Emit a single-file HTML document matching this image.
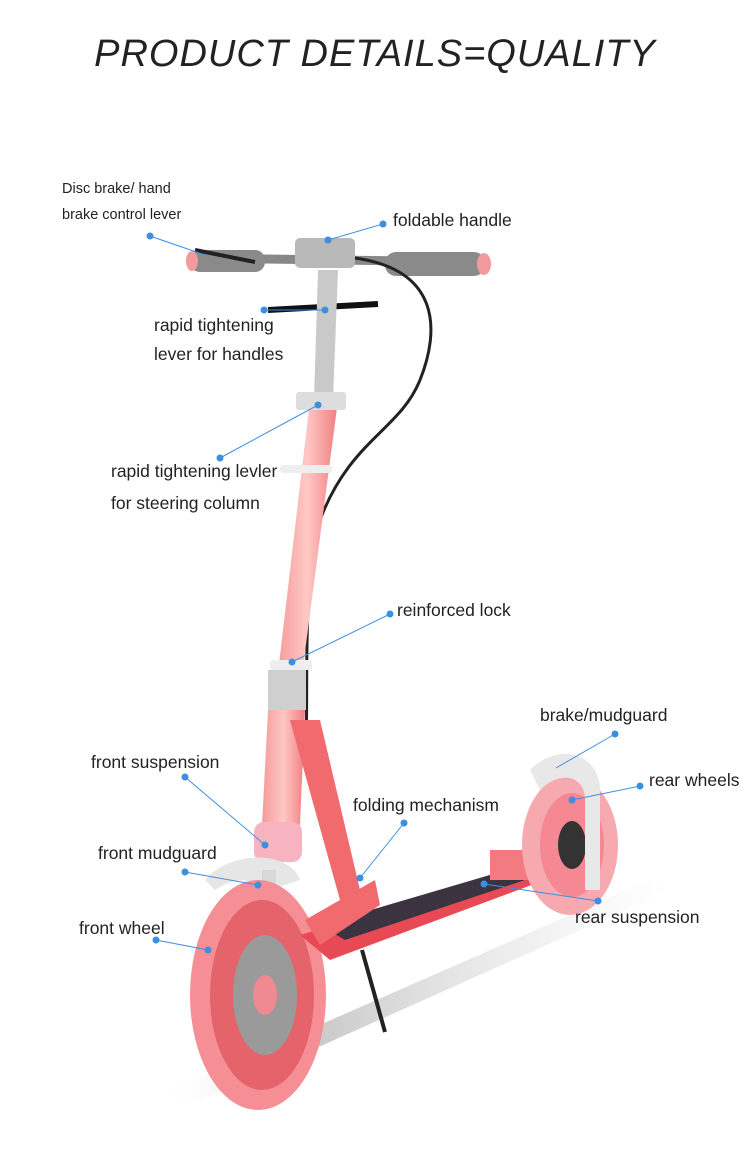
<!DOCTYPE html>
<html><head><meta charset="utf-8">
<style>
html,body{margin:0;padding:0;background:#fff;}
#c{position:relative;width:750px;height:1167px;overflow:hidden;background:#fff;font-family:"Liberation Sans",sans-serif;}
.t{position:absolute;left:0;width:750px;top:33px;text-align:center;font-size:38px;font-style:italic;font-weight:normal;color:#222;letter-spacing:1px;}
.l{position:absolute;font-size:17.5px;color:#222;white-space:nowrap;}
.s{font-size:14.5px;}
svg{position:absolute;left:0;top:0;}
</style></head><body><div id="c">
<svg width="750" height="1167" viewBox="0 0 750 1167">
<defs>
<linearGradient id="pk" x1="0" x2="1"><stop offset="0" stop-color="#f59a9a"/><stop offset=".5" stop-color="#ffc8c4"/><stop offset="1" stop-color="#f07d80"/></linearGradient>
<linearGradient id="sh" x1="0" x2="1"><stop offset="0" stop-color="#fff" stop-opacity="0"/><stop offset=".3" stop-color="#bbb"/><stop offset="1" stop-color="#ddd" stop-opacity="0"/></linearGradient>
</defs>
<polygon points="160,1095 650,880 670,890 200,1100" fill="url(#sh)" opacity=".8"/>
<path d="M190,258 L480,262" stroke="#888" stroke-width="9"/>
<rect x="190" y="250" width="75" height="22" rx="10" fill="#8a8a8a"/>
<rect x="385" y="252" width="100" height="24" rx="11" fill="#8a8a8a"/>
<ellipse cx="484" cy="264" rx="7" ry="11" fill="#f39a9c"/>
<ellipse cx="192" cy="261" rx="6" ry="10" fill="#f39a9c"/>
<rect x="295" y="238" width="60" height="30" rx="5" fill="#b9b9b9"/>
<path d="M355,258 C440,270 440,330 420,380 C400,430 350,440 320,520 C300,600 310,700 305,760" stroke="#222" stroke-width="3" fill="none"/>
<path d="M195,250 L255,262" stroke="#222" stroke-width="4"/>
<path d="M268,310 L378,304" stroke="#111" stroke-width="6"/>
<polygon points="318,270 338,270 333,400 314,400" fill="#c9c9c9"/>
<polygon points="310,400 338,400 300,690 276,690" fill="url(#pk)"/>
<rect x="296" y="392" width="50" height="18" rx="3" fill="#ddd"/>
<rect x="280" y="465" width="52" height="8" rx="3" fill="#eee"/>
<rect x="270" y="660" width="42" height="10" rx="3" fill="#eee"/>
<rect x="268" y="670" width="38" height="40" fill="#cfcfcf"/>
<polygon points="268,710 305,710 300,825 262,825" fill="url(#pk)"/>
<polygon points="290,720 320,720 360,890 340,900" fill="#f06a6e"/>
<rect x="254" y="822" width="48" height="40" rx="10" fill="#f7b3c0"/>
<path d="M205,880 C230,850 290,850 300,880 L270,890 C250,875 230,880 215,890Z" fill="#e6e6e6"/>
<rect x="262" y="870" width="14" height="110" fill="#d8d8d8"/>
<ellipse cx="258" cy="995" rx="68" ry="115" fill="#f58e95"/>
<ellipse cx="262" cy="995" rx="52" ry="95" fill="#e5636b"/>
<ellipse cx="265" cy="995" rx="32" ry="60" fill="#9a9a9a"/>
<ellipse cx="265" cy="995" rx="12" ry="20" fill="#ee8a90"/>
<polygon points="300,935 520,870 545,880 330,960" fill="#e84a55"/>
<polygon points="320,925 500,872 525,880 345,940" fill="#3b3340"/>
<polygon points="305,920 375,880 380,905 320,945" fill="#f06a6e"/>
<path d="M362,950 L385,1032" stroke="#222" stroke-width="4"/>
<rect x="490" y="850" width="40" height="30" fill="#f27a80"/>
<ellipse cx="570" cy="845" rx="48" ry="70" fill="#f7a9b0"/>
<ellipse cx="572" cy="845" rx="32" ry="52" fill="#f58893"/>
<ellipse cx="572" cy="845" rx="14" ry="24" fill="#333"/>
<path d="M530,770 C560,740 600,755 600,790 L600,890 L585,890 L585,800 C585,775 560,770 540,790Z" fill="#e8e8e8"/>
<g stroke="#3d8fe0" stroke-width="1" fill="#3d8fe0">
<line x1="150" y1="236" x2="205" y2="255"/><circle cx="150" cy="236" r="3"/>
<line x1="328" y1="240" x2="383" y2="224"/><circle cx="383" cy="224" r="3"/><circle cx="328" cy="240" r="3"/>
<line x1="264" y1="310" x2="325" y2="310"/><circle cx="264" cy="310" r="3"/><circle cx="325" cy="310" r="3"/>
<line x1="220" y1="458" x2="318" y2="405"/><circle cx="220" cy="458" r="3"/><circle cx="318" cy="405" r="3"/>
<line x1="292" y1="662" x2="390" y2="614"/><circle cx="390" cy="614" r="3"/><circle cx="292" cy="662" r="3"/>
<line x1="556" y1="768" x2="615" y2="734"/><circle cx="615" cy="734" r="3"/>
<line x1="572" y1="800" x2="640" y2="786"/><circle cx="640" cy="786" r="3"/><circle cx="572" cy="800" r="3"/>
<line x1="185" y1="777" x2="265" y2="845"/><circle cx="185" cy="777" r="3"/><circle cx="265" cy="845" r="3"/>
<line x1="360" y1="878" x2="404" y2="823"/><circle cx="404" cy="823" r="3"/><circle cx="360" cy="878" r="3"/>
<line x1="185" y1="872" x2="258" y2="885"/><circle cx="185" cy="872" r="3"/><circle cx="258" cy="885" r="3"/>
<line x1="484" y1="884" x2="598" y2="901"/><circle cx="598" cy="901" r="3"/><circle cx="484" cy="884" r="3"/>
<line x1="156" y1="940" x2="208" y2="950"/><circle cx="156" cy="940" r="3"/><circle cx="208" cy="950" r="3"/>
</g>
</svg>
<div class="t">PRODUCT DETAILS=QUALITY</div>
<div class="l s" style="left:62px;top:181px">Disc brake/ hand</div>
<div class="l s" style="left:62px;top:207px">brake control lever</div>
<div class="l" style="left:393px;top:210px">foldable handle</div>
<div class="l" style="left:154px;top:315px">rapid tightening</div>
<div class="l" style="left:154px;top:344px">lever for handles</div>
<div class="l" style="left:111px;top:461px">rapid tightening levler</div>
<div class="l" style="left:111px;top:493px">for steering column</div>
<div class="l" style="left:397px;top:600px">reinforced lock</div>
<div class="l" style="left:540px;top:705px">brake/mudguard</div>
<div class="l" style="left:91px;top:752px">front suspension</div>
<div class="l" style="left:649px;top:770px">rear wheels</div>
<div class="l" style="left:353px;top:795px">folding mechanism</div>
<div class="l" style="left:98px;top:843px">front mudguard</div>
<div class="l" style="left:575px;top:907px">rear suspension</div>
<div class="l" style="left:79px;top:918px">front wheel</div>
</div></body></html>
